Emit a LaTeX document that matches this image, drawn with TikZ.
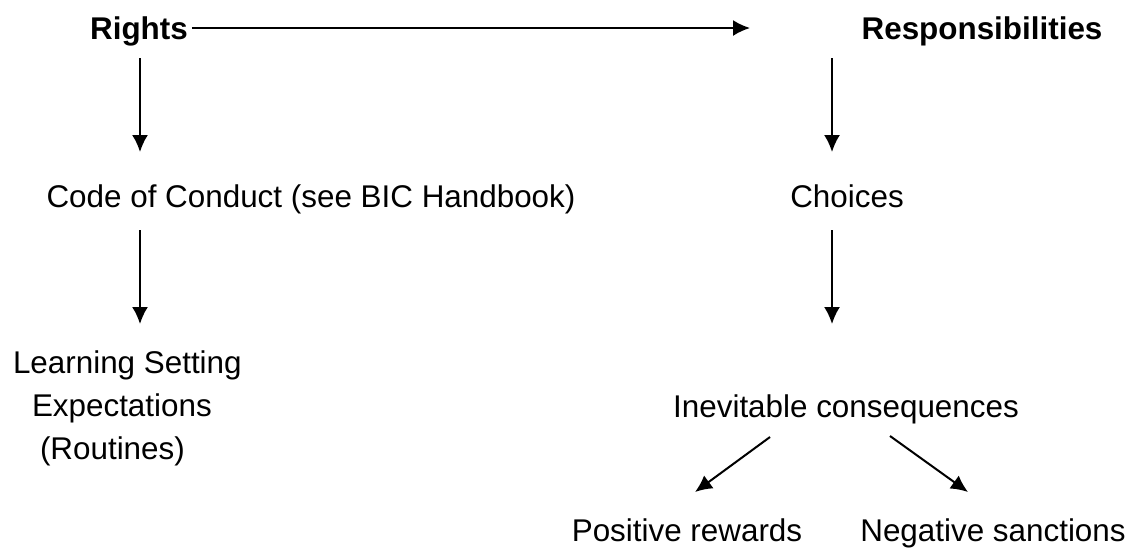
\documentclass[tikz,border=0pt]{standalone}
\usepackage{fontspec}
\setmainfont{Liberation Sans}
\usetikzlibrary{positioning,arrows.meta}
\tikzstyle{lbl}=[inner sep=0pt,anchor=base,font=\fontsize{15.7}{21.5}\selectfont]
\tikzstyle{head}=[lbl,font=\fontsize{15.7}{21.5}\selectfont\bfseries]
\begin{document}
\begin{tikzpicture}[x=0.5pt,y=-0.5pt,
    >={Latex[length=8.5pt,width=8pt]},line width=1pt
    ]
    \useasboundingbox (0,0) rectangle (1133,548);
    % top row
    \node[head] (rights) at (139,39) {Rights};
    \node[head] (resp) at (982,39) {Responsibilities};
    \coordinate (rtend) at (750,28);
    \draw[->] (rights.east |- rtend) ++(3,0) -- (rtend);
    % left column
    \node[lbl] (code) at (311,207) {Code of Conduct (see BIC Handbook)};
    \node[lbl,anchor=base west,align=left] (learn) at (12,459)
        {Learning Setting\\\hspace*{9.5pt}Expectations\\\hspace*{13.5pt}(Routines)};
    \coordinate (l1s) at (140,58);  \coordinate (l1e) at (140,152);
    \coordinate (l2s) at (140,230); \coordinate (l2e) at (140,324);
    \draw[->] (l1s) -- (l1e);
    \draw[->] (l2s) -- (l2e);
    % right column
    \node[lbl] (choices) at (847,207) {Choices};
    \node[lbl] (inev) at (846,417) {Inevitable consequences};
    \coordinate (r1s) at (832,58);  \coordinate (r1e) at (832,152);
    \coordinate (r2s) at (832,230); \coordinate (r2e) at (832,324);
    \draw[->] (r1s) -- (r1e);
    \draw[->] (r2s) -- (r2e);
    % outcomes
    \node[lbl] (pos) at (687,541) {Positive rewards};
    \node[lbl] (neg) at (993,541) {Negative sanctions};
    \coordinate (p1) at (770,437); \coordinate (p2) at (695,492);
    \coordinate (n1) at (890,436); \coordinate (n2) at (968,492);
    \draw[->] (p1) -- (p2);
    \draw[->] (n1) -- (n2);
\end{tikzpicture}
\end{document}
